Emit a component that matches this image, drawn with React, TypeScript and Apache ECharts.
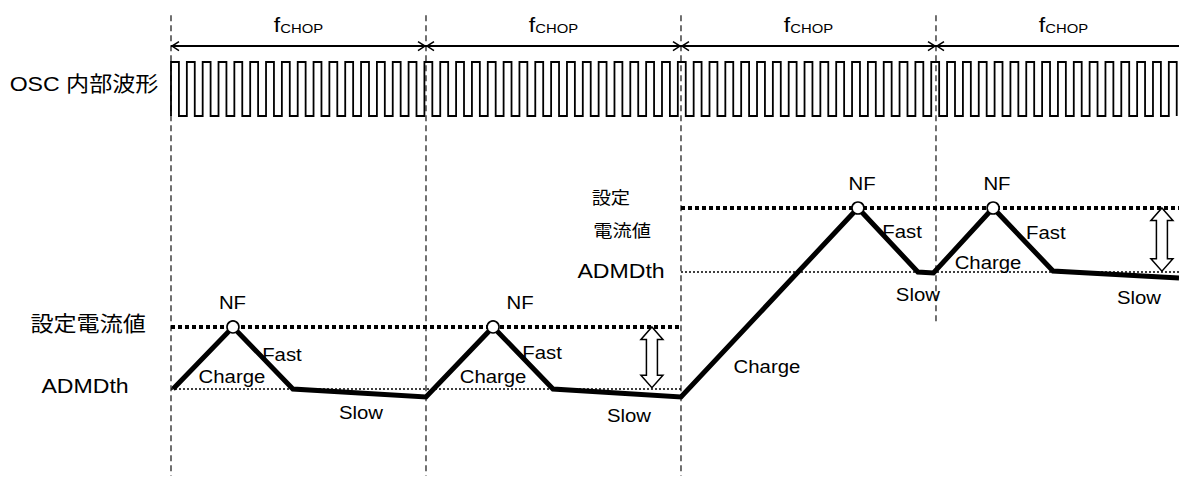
import React, { useEffect, useRef } from "react";
import * as echarts from "echarts";

const FONT = "'Liberation Sans', Arial, 'Noto Sans CJK JP', sans-serif";

// ---- time axis: one unit = one chopping period (fCHOP) ----
const chopBoundaries = [0, 1, 2, 3];
const chopLineBottoms = [-1.4, -1.4, -1.4, 1.03]; // in current-level units
const chopLineTop = 6.03;
const chopSpanStart = [0, 1, 2, 3];
const chopSpanEnd = [1, 2, 3, 4];
const chopLabelT = [0.5, 1.5, 2.5, 3.5];

// ---- OSC internal waveform ----
const oscCyclesPerChop = 16.1;
const oscEndT = 3.96;

// ---- coil current waveform ----
const currentTime = [0.008, 0.243, 0.478, 1.0, 1.263, 1.498, 2.0, 2.694, 2.929, 2.99, 3.224, 3.459, 3.953];
const currentLevel = [0, 1, 0, -0.13, 1, 0, -0.13, 2.919, 1.887, 1.871, 2.919, 1.903, 1.79];
const nfIndices = [1, 4, 7, 10];

// set current (設定電流値) and ADMDth threshold lines
const setStart = [0, 2];
const setEnd = [2, 3.953];
const setLevel = [1, 2.919];
const admdStart = [0, 2];
const admdEnd = [2, 3.953];
const admdLevel = [0, 1.887];

// hollow double arrows (set current ↔ ADMDth)
const dblArrowT = [1.886, 3.886];
const dblArrowTop = [1, 2.919];
const dblArrowBottom = [0.02, 1.9];

// ---- annotations on the current axis ----
const levelLabelText = [
  "設定電流値", "ADMDth", "設定", "電流値", "ADMDth",
  "NF", "NF", "NF", "NF",
  "Fast", "Fast", "Fast", "Fast",
  "Charge", "Charge", "Charge", "Charge",
  "Slow", "Slow", "Slow", "Slow",
];
const levelLabelT = [
  -0.325, -0.337, 1.725, 1.769, 1.765,
  0.241, 1.369, 2.71, 3.239,
  0.435, 1.455, 2.867, 3.431,
  0.239, 1.263, 2.337, 3.204,
  0.745, 1.796, 2.929, 3.796,
];
const levelLabelY = [
  1.05, 0.05, 3.08, 2.55, 1.9,
  1.4, 1.4, 3.31, 3.31,
  0.565, 0.597, 2.55, 2.52,
  0.21, 0.21, 0.37, 2.05,
  -0.37, -0.42, 1.53, 1.47,
];
const levelLabelSize = [
  21, 21, 17.5, 17.5, 21,
  18.5, 18.5, 18.5, 18.5,
  18.5, 18.5, 18.5, 18.5,
  18.5, 18.5, 18.5, 18.5,
  18.5, 18.5, 18.5, 18.5,
];

// ---- annotations on the OSC axis ----
const oscLabelText = ["OSC 内部波形"];
const oscLabelT = [-0.341];
const oscLabelY = [0.593];
const chopArrowY = 1.296;
const chopLabelY = 1.5;

const SX = 1.1;

export default function App() {
  const ref = useRef<HTMLDivElement>(null);
  useEffect(() => {
    if (!ref.current) return;
    const chart = echarts.init(ref.current, undefined, { renderer: "svg" });

    const period = 1 / oscCyclesPerChop;
    const oscData: number[][] = [];
    for (let k = 0; k * period < oscEndT; k++) {
      const t0 = k * period;
      const t1 = t0 + period / 2;
      oscData.push([t0, 0], [t0, 1], [t1, 1], [t1, 0]);
    }

    const lineSeries = (data: number[][], width: number, dash: any, yAxisIndex = 0) => ({
      type: "line",
      yAxisIndex,
      data,
      symbol: "none",
      silent: true,
      lineStyle: { color: "#000", width, type: dash, join: "miter", cap: "butt" },
      z: 3,
    });

    const series: any[] = [];

    // vertical dashed chop boundaries
    series.push({
      type: "custom",
      yAxisIndex: 0,
      silent: true,
      z: 1,
      data: chopBoundaries.map((t, i) => [t, chopLineBottoms[i]]),
      renderItem: (params: any, api: any) => {
        const a = api.coord([api.value(0), chopLineTop]);
        const b = api.coord([api.value(0), api.value(1)]);
        return {
          type: "line",
          shape: { x1: a[0], y1: a[1], x2: b[0], y2: b[1] },
          style: { stroke: "#111", lineWidth: 1.2, lineDash: [6, 4] },
        };
      },
    });

    // threshold / set lines
    setStart.forEach((s, i) => {
      series.push(lineSeries([[s, setLevel[i]], [setEnd[i], setLevel[i]]], 4, [4, 3]));
    });
    admdStart.forEach((s, i) => {
      series.push(lineSeries([[s, admdLevel[i]], [admdEnd[i], admdLevel[i]]], 1.5, [2, 2]));
    });

    // OSC square wave
    series.push(lineSeries(oscData, 1.8, "solid", 1));

    // chop period arrows
    series.push({
      type: "custom",
      yAxisIndex: 1,
      silent: true,
      z: 4,
      data: chopSpanStart.map((s, i) => [s, chopSpanEnd[i], chopArrowY]),
      renderItem: (params: any, api: any) => {
        const a = api.coord([api.value(0), api.value(2)]);
        const b = api.coord([api.value(1), api.value(2)]);
        const st = { stroke: "#000", lineWidth: 2, fill: "none" };
        return {
          type: "group",
          children: [
            { type: "line", shape: { x1: a[0], y1: a[1], x2: b[0], y2: b[1] }, style: st },
            { type: "polyline", shape: { points: [[a[0] + 8, a[1] - 4.5], [a[0] + 1, a[1]], [a[0] + 8, a[1] + 4.5]] }, style: { ...st, lineWidth: 1.5 } },
            { type: "polyline", shape: { points: [[b[0] - 8, b[1] - 4.5], [b[0] - 1, b[1]], [b[0] - 8, b[1] + 4.5]] }, style: { ...st, lineWidth: 1.5 } },
          ],
        };
      },
    });

    // current waveform
    series.push({
      ...lineSeries(currentTime.map((t, i) => [t, currentLevel[i]]), 5, "solid"),
      z: 5,
    });

    // NF circles
    series.push({
      type: "scatter",
      yAxisIndex: 0,
      silent: true,
      z: 6,
      symbol: "circle",
      symbolSize: 12,
      itemStyle: { color: "#fff", borderColor: "#000", borderWidth: 1.6, opacity: 1 },
      data: nfIndices.map((i) => [currentTime[i], currentLevel[i]]),
    });

    // hollow double arrows
    series.push({
      type: "custom",
      yAxisIndex: 0,
      silent: true,
      z: 6,
      data: dblArrowT.map((t, i) => [t, dblArrowTop[i], dblArrowBottom[i]]),
      renderItem: (params: any, api: any) => {
        const a = api.coord([api.value(0), api.value(1)]);
        const b = api.coord([api.value(0), api.value(2)]);
        const cx = a[0];
        const yt = a[1];
        const yb = b[1];
        const hw = 11;
        const sw = 5.5;
        const hl = 12.5;
        return {
          type: "polygon",
          shape: {
            points: [
              [cx, yt], [cx + hw, yt + hl], [cx + sw, yt + hl], [cx + sw, yb - hl], [cx + hw, yb - hl],
              [cx, yb], [cx - hw, yb - hl], [cx - sw, yb - hl], [cx - sw, yt + hl], [cx - hw, yt + hl],
            ],
          },
          style: { fill: "#fff", stroke: "#000", lineWidth: 1.5, lineJoin: "miter" },
        };
      },
    });

    // labels on current axis
    series.push({
      type: "custom",
      yAxisIndex: 0,
      silent: true,
      z: 8,
      data: levelLabelT.map((t, i) => [t, levelLabelY[i]]),
      renderItem: (params: any, api: any) => {
        const i = params.dataIndex;
        const p = api.coord([api.value(0), api.value(1)]);
        return {
          type: "text",
          x: p[0],
          y: p[1],
          scaleX: SX,
          style: {
            text: levelLabelText[i],
            fontSize: levelLabelSize[i],
            fontFamily: FONT,
            fill: "#000",
            align: "center",
            verticalAlign: "middle",
          },
        };
      },
    });

    // labels on OSC axis
    series.push({
      type: "custom",
      yAxisIndex: 1,
      silent: true,
      z: 8,
      data: oscLabelT.map((t, i) => [t, oscLabelY[i]]),
      renderItem: (params: any, api: any) => {
        const i = params.dataIndex;
        const p = api.coord([api.value(0), api.value(1)]);
        return {
          type: "text",
          x: p[0],
          y: p[1],
          scaleX: SX,
          style: {
            text: oscLabelText[i],
            fontSize: 21,
            fontFamily: FONT,
            fill: "#000",
            align: "center",
            verticalAlign: "middle",
          },
        };
      },
    });

    // fCHOP labels
    series.push({
      type: "custom",
      yAxisIndex: 1,
      silent: true,
      z: 8,
      data: chopLabelT.map((t) => [t, chopLabelY]),
      renderItem: (params: any, api: any) => {
        const p = api.coord([api.value(0), api.value(1)]);
        return {
          type: "text",
          x: p[0],
          y: p[1],
          scaleX: SX,
          style: {
            text: "{f|f}{s|CHOP}",
            rich: {
              f: { fontSize: 21, fontFamily: FONT, fill: "#000", verticalAlign: "bottom" },
              s: { fontSize: 13.5, fontFamily: FONT, fill: "#000", verticalAlign: "bottom" },
            },
            fill: "#000",
            align: "center",
            verticalAlign: "bottom",
          },
        };
      },
    });

    chart.setOption({
      animation: false,
      backgroundColor: "#fff",
      grid: { left: 0, right: 0, top: 0, bottom: 0, containLabel: false },
      xAxis: { type: "value", min: -0.6706, max: 3.953, show: false },
      yAxis: [
        { type: "value", min: -1.452, max: 6.274, show: false },
        { type: "value", min: -6.722, max: 2.148, show: false },
      ],
      series,
    });
    return () => chart.dispose();
  }, []);
  return (
    <div
      ref={ref}
      style={{ position: "absolute", left: 0, top: 0, width: 1179, height: 479, background: "#fff" }}
    />
  );
}
